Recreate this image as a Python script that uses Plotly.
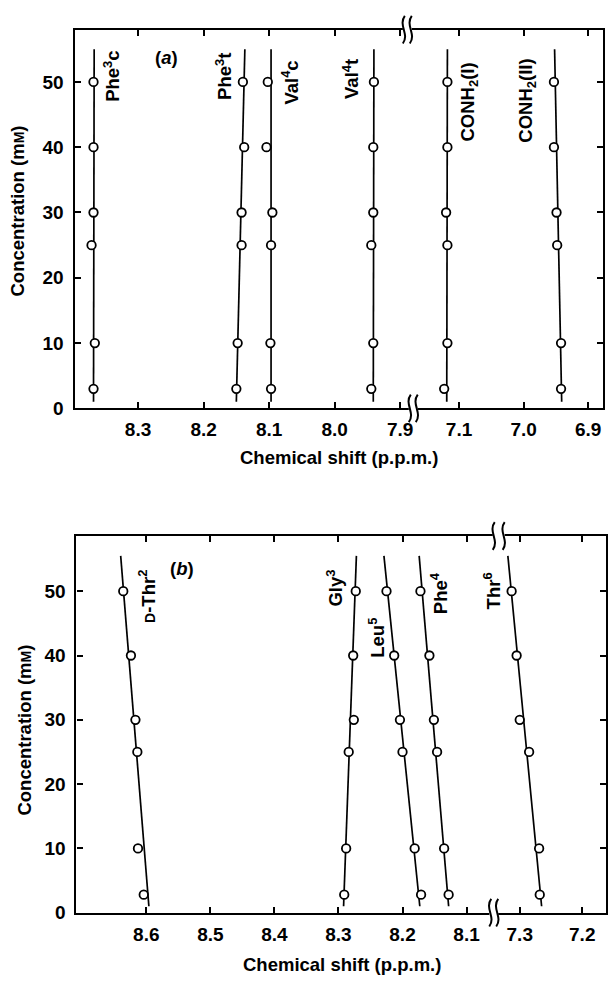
import plotly.graph_objects as go

W, H = 611, 983

# ---------------- data ----------------
# Panel (a)
conc_a = [3, 10, 25, 30, 40, 50]
fit_conc_a = [1, 55]
phe3c = [8.368, 8.366, 8.371, 8.368, 8.368, 8.368]
phe3t = [8.150, 8.148, 8.142, 8.142, 8.138, 8.140]
val4c = [8.097, 8.098, 8.097, 8.095, 8.104, 8.102]
val4t = [7.944, 7.941, 7.944, 7.941, 7.941, 7.940]
conh2_1 = [7.123, 7.118, 7.118, 7.120, 7.118, 7.118]
conh2_2 = [6.942, 6.942, 6.948, 6.949, 6.953, 6.953]
fit_phe3c = [8.368, 8.367]
fit_phe3t = [8.150, 8.137]
fit_val4c = [8.097, 8.097]
fit_val4t = [7.941, 7.940]
fit_conh2_1 = [7.119, 7.118]
fit_conh2_2 = [6.941, 6.952]

# Panel (b)
conc_b = [2.8, 10, 25, 30, 40, 50]
fit_conc_b = [1, 55.5]
dthr2 = [8.604, 8.613, 8.614, 8.617, 8.624, 8.636]
gly3 = [8.291, 8.288, 8.284, 8.276, 8.277, 8.273]
leu5 = [8.171, 8.181, 8.200, 8.204, 8.213, 8.225]
phe4 = [8.128, 8.135, 8.146, 8.151, 8.158, 8.172]
thr6 = [7.268, 7.269, 7.285, 7.300, 7.305, 7.313]
fit_dthr2 = [8.596, 8.640]
fit_gly3 = [8.292, 8.272]
fit_leu5 = [8.173, 8.229]
fit_phe4 = [8.128, 8.174]
fit_thr6 = [7.265, 7.319]

# tick labels
ticks_a_left = [8.3, 8.2, 8.1, 8.0, 7.9]
ticks_a_right = [7.1, 7.0, 6.9]
ticks_b_left = [8.6, 8.5, 8.4, 8.3, 8.2, 8.1]
ticks_b_right = [7.3, 7.2]
conc_ticks = [0, 10, 20, 30, 40, 50]

# ---------------- helpers ----------------
def fx(p):
    return p / W

def fy(p):
    return 1 - p / H

FONT = "Liberation Sans, Arial, sans-serif"
TICKFONT = dict(family=FONT, size=19, color="black", weight="bold")

fig = go.Figure()

def add_series(xs, ys, fitx, fity, xa, ya):
    fig.add_trace(go.Scatter(x=fitx, y=fity, mode="lines", xaxis=xa, yaxis=ya,
                             line=dict(color="black", width=1.7), showlegend=False,
                             hoverinfo="skip"))
    fig.add_trace(go.Scatter(x=xs, y=ys, mode="markers", xaxis=xa, yaxis=ya,
                             marker=dict(symbol="circle", size=8.5, color="white",
                                         line=dict(color="black", width=1.8)),
                             showlegend=False))

# panel a
add_series(phe3c, conc_a, fit_phe3c, fit_conc_a, "x", "y")
add_series(phe3t, conc_a, fit_phe3t, fit_conc_a, "x", "y")
add_series(val4c, conc_a, fit_val4c, fit_conc_a, "x", "y")
add_series(val4t, conc_a, fit_val4t, fit_conc_a, "x", "y")
add_series(conh2_1, conc_a, fit_conh2_1, fit_conc_a, "x2", "y2")
add_series(conh2_2, conc_a, fit_conh2_2, fit_conc_a, "x2", "y2")
# panel b
add_series(dthr2, conc_b, fit_dthr2, fit_conc_b, "x3", "y3")
add_series(gly3, conc_b, fit_gly3, fit_conc_b, "x3", "y3")
add_series(leu5, conc_b, fit_leu5, fit_conc_b, "x3", "y3")
add_series(phe4, conc_b, fit_phe4, fit_conc_b, "x3", "y3")
add_series(thr6, conc_b, fit_thr6, fit_conc_b, "x4", "y4")

common_x = dict(showline=True, linecolor="black", linewidth=2.2, ticks="inside",
                ticklen=6, tickwidth=2, tickcolor="black", mirror="ticks",
                showgrid=False, zeroline=False, tickfont=TICKFONT,
                tickformat=".1f", ticklabelstandoff=3)
common_y = dict(showline=True, linecolor="black", linewidth=2.2, ticks="inside",
                ticklen=6, tickwidth=2, tickcolor="black", showgrid=False,
                zeroline=False, tickfont=TICKFONT, tickvals=conc_ticks)

a_top, a_bot = 30, 413
b_top, b_bot = 542, 923
a_l, a_brk, a_r = 75, 412, 607
b_l, b_brk, b_r = 77, 498, 610

fig.update_layout(
    width=W, height=H, margin=dict(l=0, r=0, t=0, b=0),
    paper_bgcolor="white", plot_bgcolor="white",
    font=dict(family=FONT, color="black"),
    xaxis=dict(common_x, domain=[fx(a_l), fx(a_brk)], anchor="y",
               range=[8.397, 7.886], tickvals=ticks_a_left),
    xaxis2=dict(common_x, domain=[fx(a_brk), fx(a_r)], anchor="y2",
                range=[7.177, 6.877], tickvals=ticks_a_right),
    yaxis=dict(common_y, domain=[fy(a_bot), fy(a_top)], anchor="x",
               range=[0, 58.0], side="left", ticklabelstandoff=5),
    yaxis2=dict(common_y, domain=[fy(a_bot), fy(a_top)], anchor="x2",
                range=[0, 58.0], side="right", showticklabels=False),
    xaxis3=dict(common_x, domain=[fx(b_l), fx(b_brk)], anchor="y3",
                range=[8.709, 8.056], tickvals=ticks_b_left),
    xaxis4=dict(common_x, domain=[fx(b_brk), fx(b_r)], anchor="y4",
                range=[7.340, 7.162], tickvals=ticks_b_right),
    yaxis3=dict(common_y, domain=[fy(b_bot), fy(b_top)], anchor="x3",
                range=[0, 58.6], side="left", ticklabelstandoff=5),
    yaxis4=dict(common_y, domain=[fy(b_bot), fy(b_top)], anchor="x4",
                range=[0, 58.6], side="right", showticklabels=False),
)

# ---------------- series labels ----------------
LBL = dict(family=FONT, size=18.5, color="black", weight="bold")
labels = [
    ("Phe<sup>3</sup>c", 8.341, 50.8, "x", "y"),
    ("Phe<sup>3</sup>t", 8.170, 50.8, "x", "y"),
    ("Val<sup>4</sup>c", 8.068, 49.9, "x", "y"),
    ("Val<sup>4</sup>t", 7.976, 50.5, "x", "y"),
    ("CONH<sub>2</sub>(I)", 7.084, 46.9, "x2", "y2"),
    ("CONH<sub>2</sub>(II)", 6.994, 47.2, "x2", "y2"),
    ("<span style='font-size:14px'>D</span>-Thr<sup>2</sup>", 8.598, 49.2, "x3", "y3"),
    ("Gly<sup>3</sup>", 8.306, 50.5, "x3", "y3"),
    ("Leu<sup>5</sup>", 8.241, 42.8, "x3", "y3"),
    ("Phe<sup>4</sup>", 8.143, 49.7, "x3", "y3"),
    ("Thr<sup>6</sup>", 8.060, 50.0, "x3", "y3"),
]
for t, x, y, xr, yr in labels:
    fig.add_annotation(text=t, x=x, y=y, xref=xr, yref=yr, showarrow=False,
                       textangle=-90, font=LBL, xanchor="center", yanchor="middle")

fig.add_annotation(text="(<i>a</i>)", x=8.256, y=53.8, xref="x", yref="y",
                   showarrow=False, font=LBL, xanchor="center", yanchor="middle")
fig.add_annotation(text="(<i>b</i>)", x=8.545, y=53.6, xref="x3", yref="y3",
                   showarrow=False, font=LBL, xanchor="center", yanchor="middle")

# axis titles
TF = dict(family=FONT, size=18.5, color="black", weight="bold")
ytitle = "Concentration (m<span style='font-size:14px'>M</span>)"
xtitle = "Chemical shift (p.p.m.)"
for t, x, y, ang in [(ytitle, 18, 213, -90), (ytitle, 25, 738, -90),
                     (xtitle, 341, 463, 0), (xtitle, 344, 975, 0)]:
    fig.add_annotation(text=t, x=fx(x), y=fy(y), xref="paper", yref="paper",
                       showarrow=False, textangle=ang, font=TF,
                       xanchor="center", yanchor="middle")

# ---------------- axis break marks ----------------
def squiggle(cx, cy, h=14, w=4):
    pts = [(cx + 1, cy - h), (cx - w - 2, cy - h / 3), (cx + w + 2, cy + h / 3), (cx - 1, cy + h)]
    p = [(fx(a), fy(b)) for a, b in pts]
    return (f"M {p[0][0]},{p[0][1]} C {p[1][0]},{p[1][1]} {p[2][0]},{p[2][1]} "
            f"{p[3][0]},{p[3][1]}")

def add_break(cx, cy, gap=7):
    fig.add_shape(type="rect", xref="paper", yref="paper",
                  x0=fx(cx - gap / 2 - 1), x1=fx(cx + gap / 2 + 1),
                  y0=fy(cy + 3), y1=fy(cy - 3), fillcolor="white",
                  line=dict(width=0), layer="above")
    for dx in (-gap / 2, gap / 2):
        fig.add_shape(type="path", xref="paper", yref="paper",
                      path=squiggle(cx + dx, cy), line=dict(color="black", width=2),
                      layer="above")

add_break(410, a_top)
add_break(416, a_bot)
add_break(502, b_top, gap=10)
add_break(497, b_bot)

fig.write_html(
    "out.html",
    config={"displayModeBar": False},
    post_script=("document.documentElement.style.margin='0';"
                 "document.documentElement.style.padding='0';"
                 "document.documentElement.style.overflow='hidden';"
                 "document.body.style.margin='0';"
                 "document.body.style.padding='0';"
                 "document.body.style.overflow='hidden';"),
)
